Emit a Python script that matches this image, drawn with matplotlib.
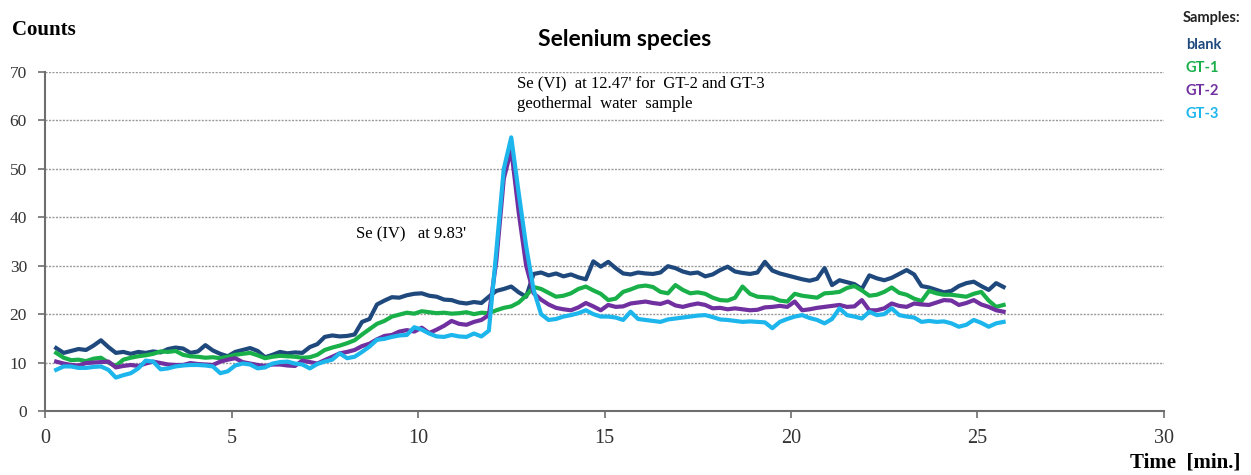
import matplotlib.pyplot as plt
import numpy as np

# time grid (min), 0.2 min steps
time = np.round(np.arange(0.3, 25.75, 0.2), 2)

blank = [
    13.0, 12.0, 12.4, 12.8, 12.6, 13.5, 14.6, 13.2, 12.0, 12.2,
    11.8, 12.2, 12.0, 12.3, 12.1, 12.8, 13.1, 12.9, 12.0, 12.3,
    13.6, 12.5, 11.8, 11.3, 12.2, 12.6, 13.0, 12.4, 11.1, 11.6,
    12.2, 11.9, 12.1, 12.0, 13.2, 13.8, 15.3, 15.6, 15.4, 15.5,
    15.8, 18.4, 19.0, 22.0, 22.8, 23.5, 23.4, 23.9, 24.2, 24.3,
    23.8, 23.6, 23.0, 22.9, 22.4, 22.2, 22.5, 22.3, 23.6, 24.8,
    25.2, 25.7, 24.5, 23.6, 28.3, 28.6, 28.0, 28.4, 27.8, 28.2,
    27.6, 27.2, 30.9, 29.8, 30.8, 29.5, 28.4, 28.2, 28.6, 28.4,
    28.3, 28.6, 29.9, 29.5, 28.8, 28.4, 28.6, 27.8, 28.2, 29.1,
    29.8, 28.8, 28.5, 28.3, 28.6, 30.8, 29.0, 28.4, 28.0, 27.6,
    27.2, 26.9, 27.3, 29.5, 26.0, 27.0, 26.6, 26.2, 25.2, 28.0,
    27.4, 27.0, 27.5, 28.3, 29.1, 28.2, 25.8, 25.5, 25.0, 24.5,
    24.8, 25.8, 26.4, 26.7, 25.8, 25.0, 26.4, 25.6,
]

gt1 = [
    12.0, 11.0, 10.5, 10.6, 10.3, 10.8, 11.0, 10.0, 9.3, 10.6,
    11.0, 11.3, 11.5, 11.8, 12.3, 12.2, 12.4, 11.6, 11.3, 11.2,
    11.0, 11.1, 10.9, 11.2, 11.6, 11.8, 12.0, 11.5, 10.9, 11.2,
    11.4, 11.3, 11.2, 11.0, 11.1, 11.6, 12.6, 13.1, 13.5, 14.0,
    14.6, 15.8, 16.9, 18.0, 18.6, 19.5, 19.9, 20.3, 20.1, 20.6,
    20.4, 20.2, 20.3, 20.1, 20.2, 20.4, 20.0, 20.3, 20.2, 20.8,
    21.3, 21.6, 22.4, 23.8, 25.6, 25.2, 24.4, 23.6, 23.8, 24.3,
    25.2, 25.7, 24.9, 24.2, 22.9, 23.2, 24.6, 25.1, 25.7, 25.9,
    25.6, 24.6, 24.3, 26.0, 25.0, 24.3, 24.5, 24.2, 23.4, 22.9,
    22.8, 23.4, 25.7, 24.2, 23.6, 23.5, 23.4, 22.8, 22.6, 24.2,
    23.8, 23.6, 23.4, 24.3, 24.4, 24.6, 25.4, 25.8, 24.9, 23.8,
    24.0, 24.6, 25.5, 24.4, 24.0, 23.2, 22.7, 24.8, 24.3, 24.0,
    24.0, 23.8, 23.6, 24.2, 24.6, 22.8, 21.5, 21.9,
]

gt2 = [
    10.2, 9.8, 9.5, 9.4, 9.9, 10.0, 10.1, 10.2, 9.0, 9.3,
    9.5, 9.3, 9.8, 10.2, 9.9, 9.6, 9.5, 9.5, 9.9, 9.7,
    9.6, 9.5, 10.2, 10.6, 10.9, 10.1, 9.8, 9.5, 9.3, 9.6,
    9.6, 9.4, 9.3, 10.4, 10.1, 9.8, 10.5, 11.2, 11.9, 12.2,
    12.6, 13.4, 13.9, 14.8, 15.5, 15.7, 16.4, 16.7, 16.4, 17.2,
    16.1, 16.8, 17.6, 18.6, 18.0, 17.8, 18.4, 18.8, 19.8, 31.0,
    48.0, 54.0, 41.0, 30.0, 24.3, 23.0, 22.0, 21.3, 21.0, 20.8,
    21.4, 22.3, 21.6, 20.8, 21.9, 21.5, 21.6, 22.2, 22.4, 22.6,
    22.3, 22.1, 22.6, 21.8, 21.5, 21.9, 22.2, 21.9, 21.2, 21.3,
    21.0, 21.2, 21.0, 20.8, 20.9, 21.4, 21.5, 21.7, 21.5, 22.6,
    20.8, 21.0, 21.3, 21.5, 21.7, 21.9, 21.5, 21.6, 22.9, 20.8,
    20.8, 21.2, 22.2, 21.7, 21.5, 22.2, 22.0, 21.9, 22.4, 22.9,
    22.8, 21.9, 22.3, 22.9, 22.0, 21.5, 20.8, 20.5,
]

gt3 = [
    8.5, 9.2, 9.2, 8.9, 8.9, 9.1, 9.2, 8.5, 6.9, 7.4,
    7.8, 8.8, 10.4, 10.2, 8.6, 8.8, 9.2, 9.4, 9.5, 9.5,
    9.4, 9.2, 7.8, 8.2, 9.4, 9.8, 9.6, 8.8, 9.0, 9.8,
    10.1, 10.2, 9.8, 9.6, 8.8, 9.7, 10.2, 10.6, 11.9, 10.9,
    11.2, 12.2, 13.3, 14.7, 14.9, 15.3, 15.6, 15.7, 17.3, 16.8,
    16.0, 15.4, 15.3, 15.7, 15.4, 15.3, 16.0, 15.4, 16.6, 33.0,
    50.0, 56.5, 45.0, 34.0, 25.0, 20.0, 18.8, 19.0, 19.5, 19.8,
    20.2, 20.8, 20.0, 19.5, 19.5, 19.3, 18.8, 20.5, 19.0, 18.8,
    18.6, 18.4, 18.9, 19.1, 19.3, 19.5, 19.7, 19.8, 19.4, 18.9,
    18.8, 18.6, 18.4, 18.5, 18.4, 18.3, 17.1, 18.4, 19.0, 19.5,
    19.8, 19.2, 18.8, 18.1, 19.0, 21.2, 19.8, 19.5, 19.1, 20.5,
    19.8, 20.0, 21.2, 19.8, 19.5, 19.3, 18.4, 18.6, 18.4, 18.5,
    18.1, 17.4, 17.8, 18.8, 18.2, 17.4, 18.1, 18.4,
]

sample_names = ["blank", "GT-1", "GT-2", "GT-3"]
sample_colors = ["#1F497D", "#19B04A", "#7030A0", "#1CB5EC"]

serif = "Liberation Serif"
sans = "Lato"

fig = plt.figure(figsize=(12.51, 4.75), dpi=100)
ax = fig.add_axes([45 / 1251, 1 - 411 / 475, (1164 - 45) / 1251, (411 - 72) / 475])

for series, col in zip([blank, gt1, gt2, gt3], sample_colors):
    ax.plot(time, series, color=col, lw=3.0, solid_joinstyle="round")

ax.set_xlim(0, 30)
ax.set_ylim(0, 70)
ax.set_xticks([0, 5, 10, 15, 20, 25, 30])
ax.set_yticks(range(0, 71, 10))
ax.grid(axis="y", color="#9a9a9a", linestyle=(0, (1.5, 1)), lw=1)
ax.set_axisbelow(True)

for side in ["top", "right"]:
    ax.spines[side].set_visible(False)
ax.spines["left"].set_color("#6e6e6e")
ax.spines["bottom"].set_color("#6e6e6e")
ax.spines["left"].set_linewidth(1.5)
ax.spines["bottom"].set_linewidth(1.5)
ax.tick_params(axis="y", length=5, width=1.2, color="#6e6e6e", pad=8, labelsize=12.5)
ax.tick_params(axis="x", length=5, width=1.2, color="#6e6e6e", pad=8, labelsize=14.5)
for lab in ax.get_xticklabels() + ax.get_yticklabels():
    lab.set_fontfamily(serif)
    lab.set_color("#333333")

fig.text(12 / 1251, 1 - 30 / 475, "Counts", family=serif, weight="bold",
         fontsize=15, va="center", ha="left")
fig.text(625 / 1251, 1 - 40 / 475, "Selenium species", family=sans, weight="bold",
         fontsize=16.5, va="center", ha="center")
fig.text(1240 / 1251, 1 - 463 / 475, "Time  [min.]", family=serif, weight="bold",
         fontsize=15, va="center", ha="right")

ax.text(12.65, 65.5, "Se (VI)  at 12.47' for  GT-2 and GT-3\ngeothermal  water  sample",
        family=serif, fontsize=12, va="center", ha="left", linespacing=1.4)
ax.text(8.35, 36.5, "Se (IV)   at 9.83'", family=serif, fontsize=12,
        va="center", ha="left")

# sample legend at the right edge
fig.text(1183 / 1251, 1 - 18 / 475, "Samples:", family=sans, weight="bold",
         fontsize=10.5, color="#222222", va="center", ha="left")
for i, (name, col) in enumerate(zip(sample_names, sample_colors)):
    fig.text(1186 / 1251, 1 - (45 + 23 * i) / 475, name, family=sans,
             weight="bold", fontsize=10.5, color=col, va="center", ha="left")

fig.savefig("out.png", dpi=100)
